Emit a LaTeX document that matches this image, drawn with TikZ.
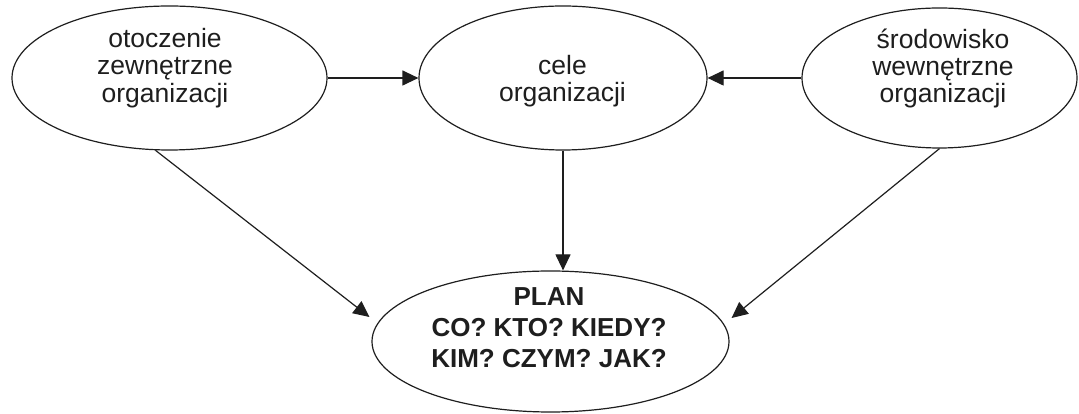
\documentclass[tikz,border=0pt]{standalone}
\usepackage{fontspec}
\setmainfont{Liberation Sans}
\usetikzlibrary{shapes.geometric,arrows.meta}
\definecolor{ink}{HTML}{1E1E1E}
\begin{document}
\begin{tikzpicture}[x=1pt,y=1pt,
  oval/.style={draw=ink,line width=1.2pt,ellipse,inner sep=0pt},
  label/.style={text=ink,align=center,inner sep=0pt,font=\fontsize{26.5}{27.5}\selectfont},
  plantext/.style={text=ink,align=center,inner sep=0pt,font=\fontsize{26}{31}\selectfont\bfseries},
  arr/.style={draw=ink,line width=1.2pt,-{Triangle[length=16pt,width=15pt]}}]
\useasboundingbox[fill=white] (0,0) rectangle (1079,414);

% three source ellipses along the top
\node[oval,minimum width=315pt,minimum height=144pt] (ext) at (169.5,336) {};
\node[oval,minimum width=288pt,minimum height=144pt] (goal) at (563,336) {};
\node[oval,minimum width=275pt,minimum height=140pt] (int) at (939.5,336) {};
% the plan at the bottom
\node[oval,minimum width=357pt,minimum height=141pt] (plan) at (550.5,72.5) {};

% texts inside the ellipses
\node[label] (extT) at (165,346) {otoczenie\\zewnętrzne\\organizacji};
\node[label] (goalT) at (562.5,333) {cele\\organizacji};
\node[label] (intT) at (943,345.5) {środowisko\\wewnętrzne\\organizacji};
\node[plantext] (planT) at (549,86.2) {PLAN\\CO? KTO? KIEDY?\\KIM? CZYM? JAK?};

% connectors
\draw[arr] (ext.east) -- (goal.west);
\draw[arr] (int.west) -- (goal.east);
\draw[arr] (goal.south) -- (goal.south |- plan.north);
\draw[arr] (ext.259) -- ([shift={(-2,24.5)}]plan.west);
\draw[arr] (int.south) -- ([shift={(2,23.5)}]plan.east);
\end{tikzpicture}
\end{document}
